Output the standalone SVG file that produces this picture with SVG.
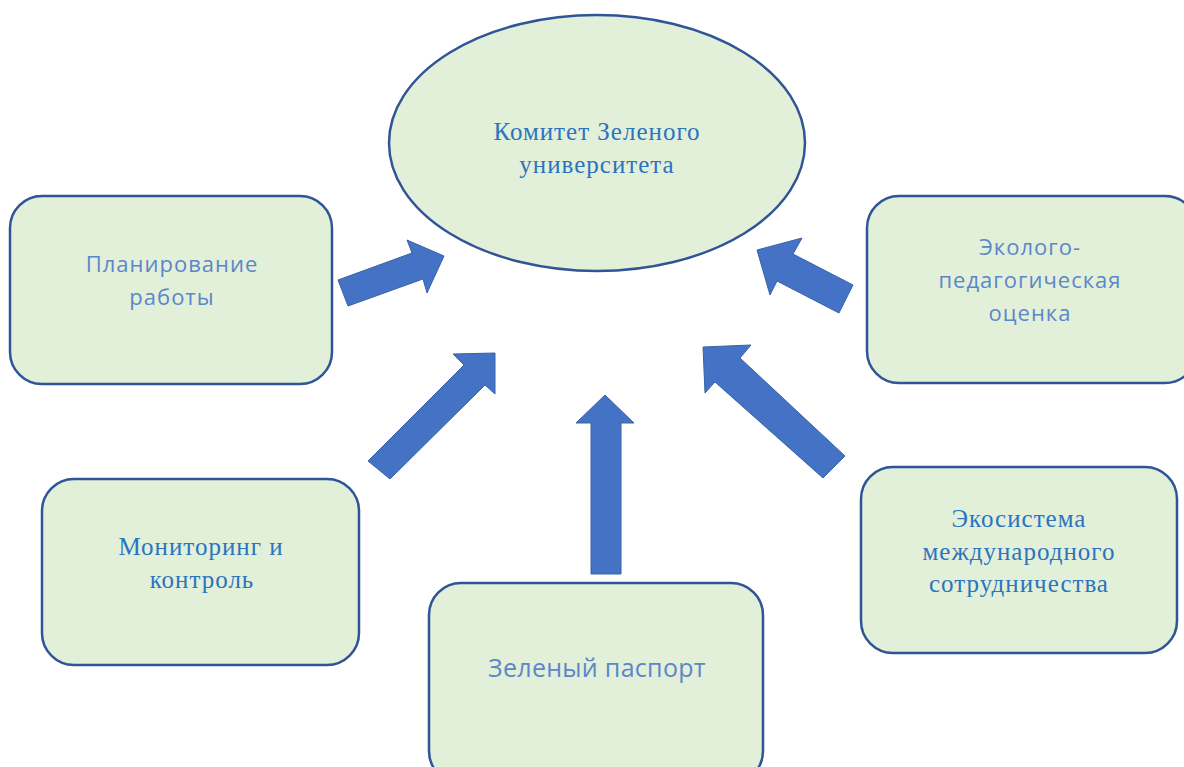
<svg xmlns="http://www.w3.org/2000/svg" width="1184" height="767" viewBox="0 0 1184 767">
<style>
.box{fill:#e2efd9;stroke:#2f5597;stroke-width:2.5}
.arr{fill:#4472c4;stroke:#3a62a8;stroke-width:1}
.sans{font-family:"Open Sans","Noto Sans","DejaVu Sans",sans-serif;fill:#5b87c9;text-anchor:middle;font-size:22px;letter-spacing:1px}
.serif{font-family:"Liberation Serif","DejaVu Serif",serif;fill:#2a74c0;text-anchor:middle;font-size:25px;letter-spacing:1px}
</style>
<rect width="1184" height="767" fill="#ffffff"/>
<g id="connectors">
<polygon class="arr" points="338,280 412,253 407,240 444,256 427,293 423,279 348,306"/>
<polygon class="arr" points="757,250 802,238 793,254 853,285 839,313 777,281 770,295"/>
<polygon class="arr" points="368,461 464,365 453,354 495,353 495,394 485,385 390,479"/>
<polygon class="arr" points="703,347 751,345 740,358 845,456 823,478 715,382 705,393"/>
<polygon class="arr" points="605,395 634,423 621,423 621,574 591,574 591,423 576,423"/>
</g>
<g id="committee">
<ellipse class="box" cx="597" cy="143" rx="208" ry="128"/>
<text class="serif" x="597" y="140">Комитет Зеленого</text>
<text class="serif" x="597" y="173">университета</text>
</g>
<g id="planning">
<rect class="box" x="10" y="196" width="322" height="188" rx="32"/>
<text class="sans" x="172" y="272">Планирование</text>
<text class="sans" x="172" y="305">работы</text>
</g>
<g id="eco-ped">
<rect class="box" x="867" y="196" width="330" height="187" rx="32"/>
<text class="sans" x="1030" y="255">Эколого-</text>
<text class="sans" x="1030" y="288">педагогическая</text>
<text class="sans" x="1030" y="321">оценка</text>
</g>
<g id="monitoring">
<rect class="box" x="42" y="479" width="317" height="186" rx="32"/>
<text class="serif" x="201" y="555">Мониторинг и</text>
<text class="serif" x="202" y="588">контроль</text>
</g>
<g id="passport">
<rect class="box" x="429" y="583" width="334" height="200" rx="32"/>
<text class="sans" x="597" y="677" style="font-size:25px;letter-spacing:0.3px">Зеленый паспорт</text>
</g>
<g id="ecosystem">
<rect class="box" x="861" y="467" width="316" height="186" rx="32"/>
<text class="serif" x="1019" y="527">Экосистема</text>
<text class="serif" x="1019" y="560">международного</text>
<text class="serif" x="1019" y="592">сотрудничества</text>
</g>
</svg>
